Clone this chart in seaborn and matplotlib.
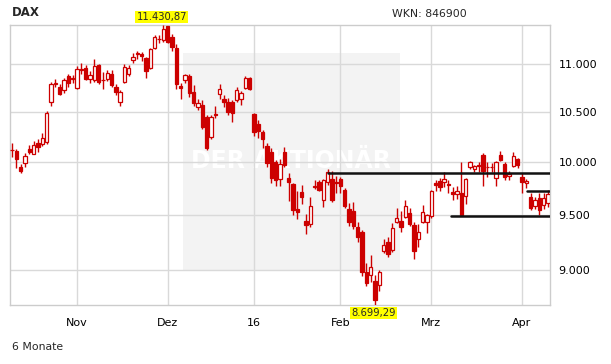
import numpy as np
import pandas as pd
import matplotlib
matplotlib.use("Agg")
import matplotlib.pyplot as plt
from matplotlib.ticker import FixedLocator, FixedFormatter, NullLocator
from matplotlib.patches import Rectangle
import seaborn as sns

# ---------------- data ----------------
holidays = ["2015-12-24", "2015-12-25", "2015-12-31", "2016-01-01",
            "2016-03-25", "2016-03-28"]
dates = pd.bdate_range("2015-10-12", "2016-04-11")
dates = dates[~dates.isin(pd.to_datetime(holidays))]

opens = [10115, 10110, 9955, 9990, 10130, 10083, 10185, 10178, 10194, 10609,
         10795, 10765, 10727, 10872, 10845, 10750, 10945, 10960, 10848, 10830,
         10990, 10830, 10840, 10900, 10763, 10608, 10815, 10900, 11048, 11110,
         11112, 11069, 10963, 11178, 11280, 11265, 11420, 11298, 11178, 10774,
         10836, 10878, 10711, 10556, 10577, 10445, 10245, 10480, 10690, 10639,
         10608, 10600, 10629, 10640, 10753, 10857, 10485, 10375, 10294, 10155,
         10100, 9999, 9836, 10100, 9845, 9788, 9554, 9713, 9443, 9416,
         9765, 9807, 9640, 9807, 9836, 9800, 9836, 9732, 9554, 9536,
         9388, 9343, 8988, 8954, 8902, 8868, 9172, 9250, 9175, 9434,
         9443, 9480, 9517, 9407, 9280, 9434, 9434, 9489, 9797, 9817,
         9807, 9788, 9713, 9694, 9705, 9675, 9955, 9932, 9965, 10067,
         9951, 9955, 9845, 10067, 9980, 9870, 9961, 10028, 9855, 9797,
         9666, 9580, 9657, 9590, 9610]
highs = [10190, 10125, 9985, 10086, 10170, 10210, 10230, 10290, 10510, 10810,
         10840, 10790, 10860, 10895, 10890, 10980, 11010, 10995, 10930, 11060,
         11000, 10920, 10935, 10935, 10790, 10730, 11000, 10990, 11120, 11150,
         11130, 11080, 11180, 11320, 11320, 11430.87, 11420, 11330, 11220, 10800,
         10900, 10900, 10780, 10640, 10620, 10470, 10470, 10560, 10790, 10680,
         10650, 10620, 10760, 10720, 10880, 10870, 10490, 10420, 10320, 10190,
         10140, 10020, 10030, 10150, 9893, 9800, 9720, 9780, 9508, 9670,
         9830, 9830, 9840, 9935, 9915, 9870, 9860, 9750, 9610, 9620,
         9430, 9360, 9060, 9130, 8960, 9000, 9280, 9300, 9420, 9560,
         9530, 9640, 9560, 9430, 9416, 9590, 9510, 9730, 9830, 9850,
         9900, 9830, 9760, 9770, 9999, 9850, 10010, 9970, 10000, 10090,
         10000, 9990, 10010, 10107, 10000, 9910, 10100, 10040, 9898, 9840,
         9700, 9670, 9700, 9700, 9730]
lows = [10050, 9945, 9890, 9950, 10080, 10075, 10095, 10160, 10180, 10566,
        10760, 10680, 10700, 10760, 10800, 10735, 10900, 10830, 10800, 10810,
        10790, 10735, 10820, 10760, 10680, 10560, 10800, 10880, 11010, 11060,
        11040, 10850, 10950, 11170, 11230, 11240, 11230, 11150, 10740, 10630,
        10800, 10660, 10560, 10520, 10330, 10116, 10230, 10440, 10640, 10550,
        10470, 10395, 10600, 10570, 10740, 10730, 10260, 10240, 10140, 9950,
        9800, 9770, 9770, 9950, 9628, 9500, 9460, 9600, 9325, 9390,
        9740, 9720, 9570, 9780, 9620, 9700, 9700, 9560, 9400, 9370,
        9250, 8950, 8860, 8900, 8699.29, 8820, 9150, 9120, 9160, 9420,
        9340, 9470, 9400, 9100, 9209, 9420, 9330, 9470, 9720, 9720,
        9760, 9700, 9640, 9650, 9490, 9600, 9930, 9900, 9900, 9770,
        9860, 9900, 9770, 10010, 9830, 9830, 9950, 9940, 9700, 9750,
        9540, 9550, 9500, 9550, 9570]
closes = [10120, 10032, 9915, 10060, 10104, 10164, 10147, 10238, 10492, 10795,
          10801, 10692, 10832, 10800, 10850, 10951, 10951, 10845, 10888, 10988,
          10815, 10832, 10907, 10783, 10708, 10713, 10971, 10960, 11085, 11119,
          11092, 10933, 11170, 11300, 11275, 11386, 11243, 11190, 10789, 10752,
          10886, 10701, 10597, 10598, 10345, 10139, 10451, 10470, 10743, 10608,
          10497, 10488, 10732, 10700, 10857, 10743, 10294, 10310, 10225, 9990,
          9849, 9826, 9980, 9970, 9807, 9545, 9526, 9666, 9407, 9582,
          9769, 9732, 9826, 9902, 9638, 9807, 9769, 9582, 9434, 9397,
          9298, 8988, 8885, 9032, 8742, 8980, 9225, 9146, 9379, 9470,
          9388, 9582, 9416, 9172, 9343, 9526, 9498, 9722, 9775, 9760,
          9836, 9775, 9694, 9722, 9498, 9836, 9999, 9961, 9970, 9912,
          9950, 9948, 9999, 10019, 9855, 9887, 10058, 9970, 9807, 9817,
          9563, 9640, 9545, 9660, 9694]

yticks = [9000, 9500, 10000, 10500, 11000]
ytick_labels = ["9.000", "9.500", "10.000", "10.500", "11.000"]
month_names = {11: "Nov", 12: "Dez", 1: "16", 2: "Feb", 3: "Mrz", 4: "Apr"}

# horizontal support / resistance lines: level and start position (trading-day index)
line_levels = [9898, 9488, 9723]
line_starts = [73.1, 101.6, 119.2]

df = pd.DataFrame({"date": dates, "open": opens, "high": highs,
                   "low": lows, "close": closes})
df["idx"] = np.arange(len(df))

# ---------------- style ----------------
sns.set_theme(style="white")
plt.rcParams["font.family"] = ["DejaVu Sans"]

RED = "#cc0000"
GRID = "#d9d9d9"

fig = plt.figure(figsize=(6.11, 3.64), dpi=100)
ax = fig.add_axes([10 / 611, 59 / 364, 540 / 611, 280 / 364])
ax.set_yscale("log")

xmin, xmax = -0.5, len(df) - 0.5
ax.set_xlim(xmin, xmax)
ax.set_ylim(df["low"].min(), df["high"].max())

# watermark panel
ax.add_patch(Rectangle((0.320, 0.125), 0.402, 0.775, transform=ax.transAxes,
                       facecolor="#f3f3f3", edgecolor="none", zorder=0))
ax.text(0.52, 0.515, "DER AKTIONÄR", transform=ax.transAxes, ha="center",
        va="center", fontsize=17, fontweight="bold", color="white", zorder=0.5)

# grid
ax.yaxis.set_major_locator(FixedLocator(yticks))
ax.yaxis.set_major_formatter(FixedFormatter(ytick_labels))
ax.yaxis.set_minor_locator(NullLocator())
month_first = df.groupby([df["date"].dt.year, df["date"].dt.month])["idx"].min()
xt = [i for (y, m), i in month_first.items() if i > 0]
xl = [month_names[df["date"].iloc[i].month] for i in xt]
ax.xaxis.set_major_locator(FixedLocator(xt))
ax.xaxis.set_major_formatter(FixedFormatter(xl))
ax.grid(True, color=GRID, linewidth=1.0, zorder=1)
ax.set_axisbelow(True)
for s in ax.spines.values():
    s.set_color("#cccccc")
    s.set_linewidth(1.0)
ax.yaxis.tick_right()
ax.tick_params(axis="y", length=0, pad=6, labelsize=8, colors="black")
ax.tick_params(axis="x", length=0, pad=9, labelsize=8, colors="black")

# candles
up = df["close"] >= df["open"]
ax.vlines(df["idx"], df["low"], df["high"], color=RED, linewidth=1.0, zorder=3)
body_low = np.minimum(df["open"], df["close"])
body_h = np.abs(df["close"] - df["open"])
ax.bar(df["idx"], body_h, bottom=body_low, width=0.78,
       color=np.where(up, "white", RED), edgecolor=RED, linewidth=0.9, zorder=4)

# support / resistance lines
for lvl, st in zip(line_levels, line_starts):
    seg = pd.DataFrame({"x": [st, xmax], "y": [lvl, lvl]})
    sns.lineplot(data=seg, x="x", y="y", ax=ax, color="#111111",
                 linewidth=1.8, zorder=5)
ax.set_xlabel("")
ax.set_ylabel("")

# extreme labels
imax = int(df["high"].idxmax())
imin = int(df["low"].idxmin())
fmt = lambda v: f"{v:,.2f}".replace(",", "X").replace(".", ",").replace("X", ".")
box = dict(boxstyle="square,pad=0.12", facecolor="#ffff00", edgecolor="none")
ax.annotate(fmt(df["high"].max()), xy=(imax - 0.4, df["high"].max()),
            xytext=(0, 2), textcoords="offset points", ha="center", va="bottom",
            fontsize=7.2, bbox=box, annotation_clip=False, zorder=6)
ax.annotate(fmt(df["low"].min()), xy=(imin - 0.3, df["low"].min()),
            xytext=(0, -2), textcoords="offset points", ha="center", va="top",
            fontsize=7.2, bbox=box, annotation_clip=False, zorder=6)

# header / footer texts
fig.text(12 / 611, 1 - 12.5 / 364, "DAX", fontsize=8.5, fontweight="bold",
         ha="left", va="center")
fig.text(429.5 / 611, 1 - 14 / 364, "WKN: 846900", fontsize=7.8,
         ha="center", va="center")
fig.text(12 / 611, 1 - 347 / 364, "6 Monate", fontsize=7.8,
         ha="left", va="center")

fig.savefig("out.png", dpi=100)
